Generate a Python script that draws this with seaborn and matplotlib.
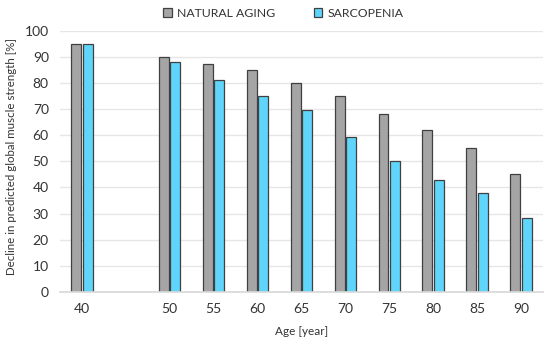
import matplotlib
matplotlib.use("Agg")
import matplotlib.pyplot as plt
import seaborn as sns
import pandas as pd
from matplotlib.patches import Patch

ages = ["40", "50", "55", "60", "65", "70", "75", "80", "85", "90"]
slot_order = ["40", "45", "50", "55", "60", "65", "70", "75", "80", "85", "90"]
tick_labels = ["40", "", "50", "55", "60", "65", "70", "75", "80", "85", "90"]
natural_aging = [95, 90, 87.3, 85, 80, 75, 68, 62, 55, 45]
sarcopenia = [95, 88, 81.2, 75.2, 69.5, 59.2, 50.1, 42.7, 37.7, 28.2]
series = ["NATURAL AGING", "SARCOPENIA"]
colors = ["#A5A5A5", "#5FD5FB"]

df = pd.DataFrame({
    "age": ages * 2,
    "value": natural_aging + sarcopenia,
    "series": [series[0]] * len(ages) + [series[1]] * len(ages),
})

sns.set_theme(style="white")
plt.rcParams["font.family"] = ["Lato", "DejaVu Sans"]

fig = plt.figure(figsize=(5.5, 3.43), dpi=100)
ax = fig.add_axes([0.109, 0.149, 0.878, 0.761])

sns.barplot(data=df, x="age", y="value", hue="series", order=slot_order,
            hue_order=series, palette=colors, saturation=1, width=0.52, gap=0.13,
            edgecolor="#404040", linewidth=0.9, ax=ax, legend=False)

ax.set_ylim(0, 100)
ax.set_yticks(range(0, 101, 10))
ax.set_xlim(-0.5, len(slot_order) - 0.5)
ax.set_xticks(range(len(slot_order)))
ax.set_xticklabels(tick_labels)
ax.tick_params(axis="both", labelsize=10, colors="#333333", length=0, pad=8)
ax.yaxis.grid(True, color="#E6E6E6", linewidth=1)
ax.set_axisbelow(True)
for s in ["top", "right", "left"]:
    ax.spines[s].set_visible(False)
ax.spines["bottom"].set_color("#D9D9D9")
ax.set_xlabel("Age [year]", fontsize=8.5, color="#333333", labelpad=8)
ax.set_ylabel("Decline in predicted global muscle strength [%]", fontsize=8.3,
              color="#333333")
ax.yaxis.set_label_coords(-0.088, 0.52)

handles = [Patch(facecolor=c, edgecolor="#404040", linewidth=0.9) for c in colors]
fig.legend(handles, series, loc="upper center", bbox_to_anchor=(0.515, 1.01),
           ncol=2, frameon=False, fontsize=8.8, handlelength=0.7,
           handleheight=0.7, handletextpad=0.4, columnspacing=3.2,
           labelcolor="#333333")

fig.savefig("out.png", dpi=100)
